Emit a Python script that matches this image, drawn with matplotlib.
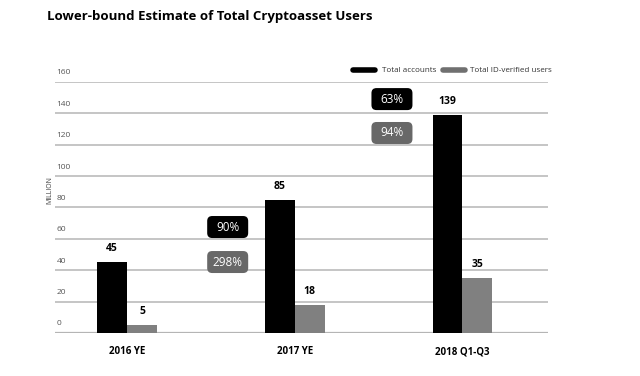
import numpy as np
import matplotlib
matplotlib.use("Agg")
import matplotlib.pyplot as plt
from matplotlib.patches import FancyBboxPatch
from matplotlib.transforms import blended_transform_factory, ScaledTranslation

plt.rcParams['font.family'] = ['Open Sans', 'DejaVu Sans']

categories = ['2016 YE', '2017 YE', '2018 Q1-Q3']
total_accounts = [45, 85, 139]
id_verified = [5, 18, 35]
yticks = [0, 20, 40, 60, 80, 100, 120, 140, 160]

# growth badges: (group position, y, text, colour)
growth_labels = [
    (0.60, 67.5, '90%', 'black'),
    (0.60, 45.2, '298%', '#686868'),
    (1.58, 149.0, '63%', 'black'),
    (1.58, 127.4, '94%', '#686868'),
]

fig = plt.figure(figsize=(6.4, 3.76), dpi=100)
ax = fig.add_axes([0.086, 0.1144, 0.770, 0.668])

x = np.arange(len(categories))
w = 0.178
ax.bar(x - w / 2, total_accounts, w, color='black', zorder=3)
ax.bar(x + w / 2, id_verified, w, color='#808080', zorder=3)

for xi, v in zip(x, total_accounts):
    ax.text(xi - w / 2, v + 5, str(v), ha='center', va='bottom',
            fontsize=7.5, fontweight='bold', zorder=4)
for xi, v in zip(x, id_verified):
    ax.text(xi + w / 2, v + 5, str(v), ha='center', va='bottom',
            fontsize=7.5, fontweight='bold', zorder=4)

# fixed-size rounded badges (sizes in inches)
bw, bh, r = 0.41, 0.22, 0.05
for gx, gy, txt, col in growth_labels:
    tr = fig.dpi_scale_trans + ScaledTranslation(gx, gy, ax.transData)
    box = FancyBboxPatch((-bw / 2 + r, -bh / 2 + r), bw - 2 * r, bh - 2 * r,
                         boxstyle=f'round,pad={r}', fc=col, ec='none',
                         transform=tr, zorder=5, clip_on=False)
    ax.add_patch(box)
    ax.text(gx, gy, txt, ha='center', va='center', fontsize=8.5, color='white', zorder=6)

ax.set_xlim(-0.43, 2.51)
ax.set_ylim(0, 160)

ytr = blended_transform_factory(ax.transAxes, ax.transData)
for t in yticks:
    ax.axhline(t, color='#b5b5b5', lw=1.1 if t else 1.6, zorder=1)
    ax.text(0.003, t + 3.5, str(t), transform=ytr,
            fontsize=6, color='#555555', ha='left', va='bottom')

ax.set_xticks([])
ax.set_yticks([])
for s in ax.spines.values():
    s.set_visible(False)

for xi, c in zip(x, categories):
    ax.text(xi, -12, c, ha='center', va='center', fontsize=7, fontweight='bold')

ax.text(-0.01, 91, 'MILLION', transform=ytr,
        rotation=90, fontsize=5, color='#444444', ha='center', va='center')

fig.text(0.073, 0.955, 'Lower-bound Estimate of Total Cryptoasset Users',
         fontsize=9.5, fontweight='bold', ha='left', va='center')

# legend
ly = 1 - 70 / 376
fig.lines.append(plt.Line2D([353 / 640, 375 / 640], [ly] * 2, color='black',
                            lw=4, solid_capstyle='round', transform=fig.transFigure))
fig.text(382 / 640, ly, 'Total accounts', fontsize=5.8, color='#333333', va='center')
fig.lines.append(plt.Line2D([443 / 640, 465 / 640], [ly] * 2, color='#707070',
                            lw=4, solid_capstyle='round', transform=fig.transFigure))
fig.text(470 / 640, ly, 'Total ID-verified users', fontsize=5.8, color='#333333', va='center')

fig.savefig('out.png', dpi=100)
